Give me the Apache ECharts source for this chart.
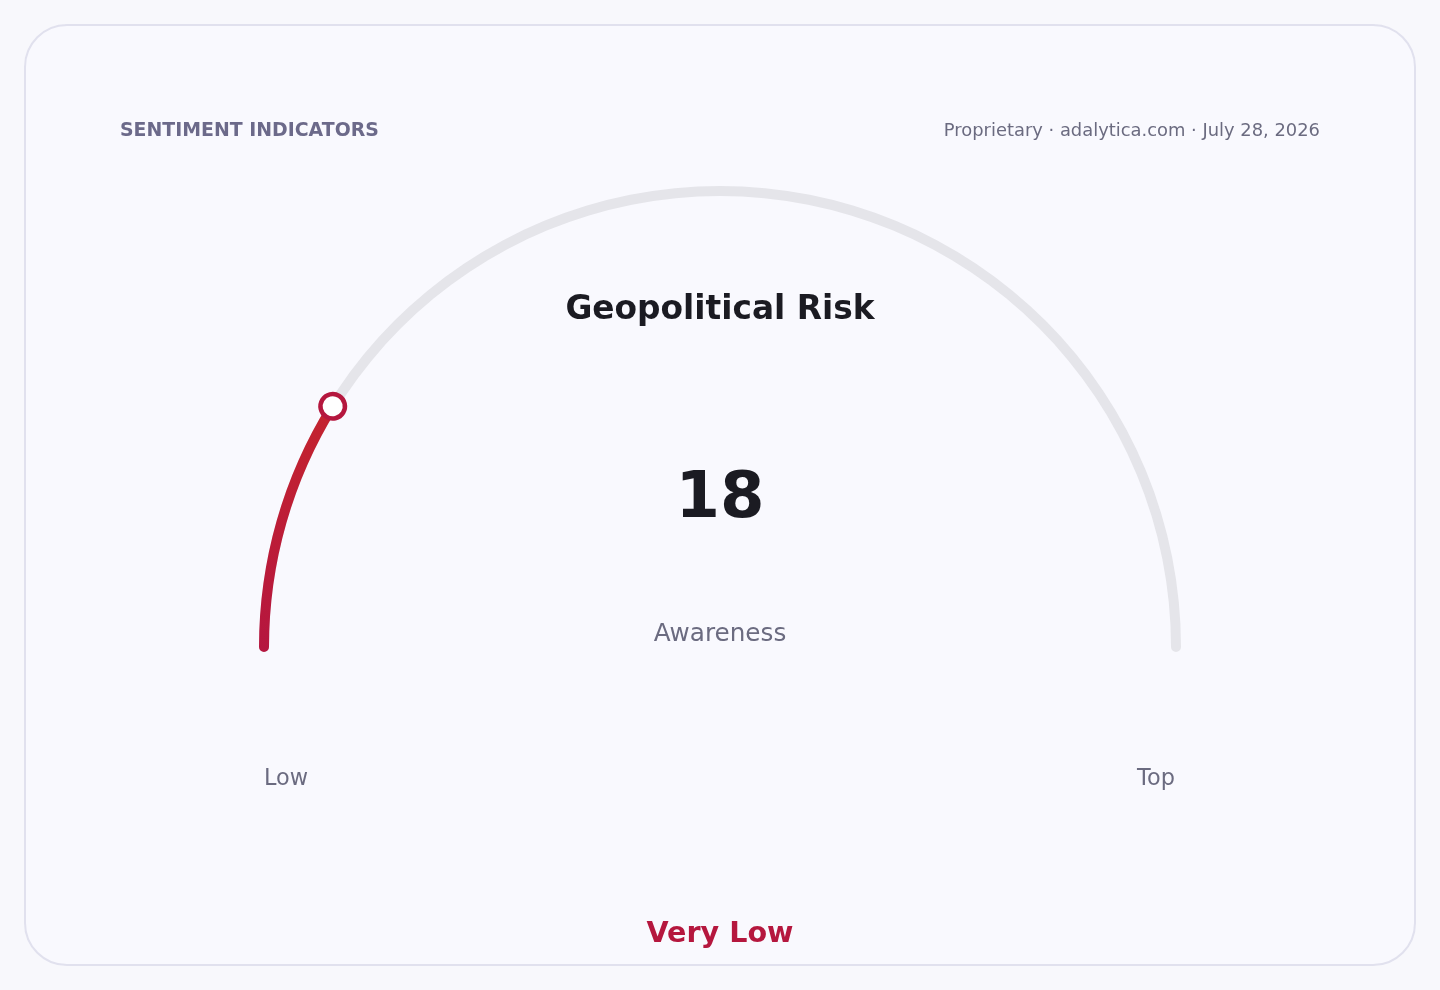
<!DOCTYPE html>
<html>
<head>
<meta charset="utf-8">
<script src="https://cdn.jsdelivr.net/npm/echarts@6/dist/echarts.min.js"></script>
<style>
  html, body { margin: 0; padding: 0; background: #f8f8fc; }
  #chart { width: 1440px; height: 990px; }
</style>
</head>
<body>
<div id="chart"></div>
<script>
const headerTitle = 'SENTIMENT INDICATORS';
const sourceText = 'Proprietary · adalytica.com · July 28, 2026';
const gaugeName = 'Geopolitical Risk';
const gaugeValue = 17.7;
const gaugeLabel = '18';
const gaugeMin = 0;
const gaugeMax = 100;
const gaugeSubLabel = 'Awareness';
const endLabels = ['Low', 'Top'];
const ratingText = 'Very Low';

const FONT = '"DejaVu Sans", sans-serif';
const accent = '#b5173e';

const baseGauge = {
  type: 'gauge',
  center: [720, 647],
  radius: 461,
  startAngle: 180,
  endAngle: 0,
  min: gaugeMin,
  max: gaugeMax,
  splitNumber: 10,
  axisTick: { show: false },
  splitLine: { show: false },
  axisLabel: { show: false },
  anchor: { show: false },
  title: { show: false },
  detail: { show: false },
  data: [{ value: gaugeValue, name: gaugeName }]
};

const chart = echarts.init(document.getElementById('chart'), null, { renderer: 'canvas' });
chart.setOption({
  backgroundColor: '#f8f8fc',
  animation: false,
  graphic: [
    { type: 'rect', shape: { x: 25, y: 25, width: 1390, height: 940, r: 42 },
      style: { fill: '#f9f9fe', stroke: '#e1e1ee', lineWidth: 2 }, z: -10 },
    { type: 'text', x: 120, y: 131,
      style: { text: headerTitle, font: 'bold 18.9px ' + FONT, fill: '#6c6a8a', textVerticalAlign: 'middle' } },
    { type: 'text', x: 1320, y: 131,
      style: { text: sourceText, font: '17.9px ' + FONT, fill: '#6b6b80', textAlign: 'right', textVerticalAlign: 'middle' } },
    { type: 'text', x: 720, y: 310,
      style: { text: gaugeName, font: 'bold 32.8px ' + FONT, fill: '#1b1b22', textAlign: 'center', textVerticalAlign: 'middle' } },
    { type: 'text', x: 720, y: 500,
      style: { text: gaugeLabel, font: 'bold 64px ' + FONT, fill: '#1b1b22', textAlign: 'center', textVerticalAlign: 'middle' } },
    { type: 'text', x: 720, y: 635,
      style: { text: gaugeSubLabel, font: '24.7px ' + FONT, fill: '#6b6b80', textAlign: 'center', textVerticalAlign: 'middle' } },
    { type: 'text', x: 286, y: 779,
      style: { text: endLabels[0], font: '22.4px ' + FONT, fill: '#6b6b80', textAlign: 'center', textVerticalAlign: 'middle' } },
    { type: 'text', x: 1156, y: 779,
      style: { text: endLabels[1], font: '22.4px ' + FONT, fill: '#6b6b80', textAlign: 'center', textVerticalAlign: 'middle' } },
    { type: 'text', x: 720, y: 935,
      style: { text: ratingText, font: 'bold 28.6px ' + FONT, fill: accent, textAlign: 'center', textVerticalAlign: 'middle' } }
  ],
  series: [
    Object.assign({}, baseGauge, {
      progress: {
        show: true,
        width: 10,
        roundCap: true,
        itemStyle: {
          color: new echarts.graphic.LinearGradient(0, 0, 0, 1, [
            { offset: 0, color: '#c4242e' },
            { offset: 1, color: '#b5163f' }
          ])
        }
      },
      axisLine: {
        roundCap: true,
        lineStyle: { width: 10, color: [[1, '#e5e5ea']] }
      },
      pointer: { show: false }
    }),
    Object.assign({}, baseGauge, {
      z: 5,
      progress: { show: false },
      axisLine: { show: false },
      pointer: {
        show: true,
        icon: 'circle',
        width: 24.5,
        length: 24.5,
        offsetCenter: [0, -443.75],
        itemStyle: { color: '#ffffff', borderColor: accent, borderWidth: 4.5 }
      }
    })
  ]
});
</script>
</body>
</html>
